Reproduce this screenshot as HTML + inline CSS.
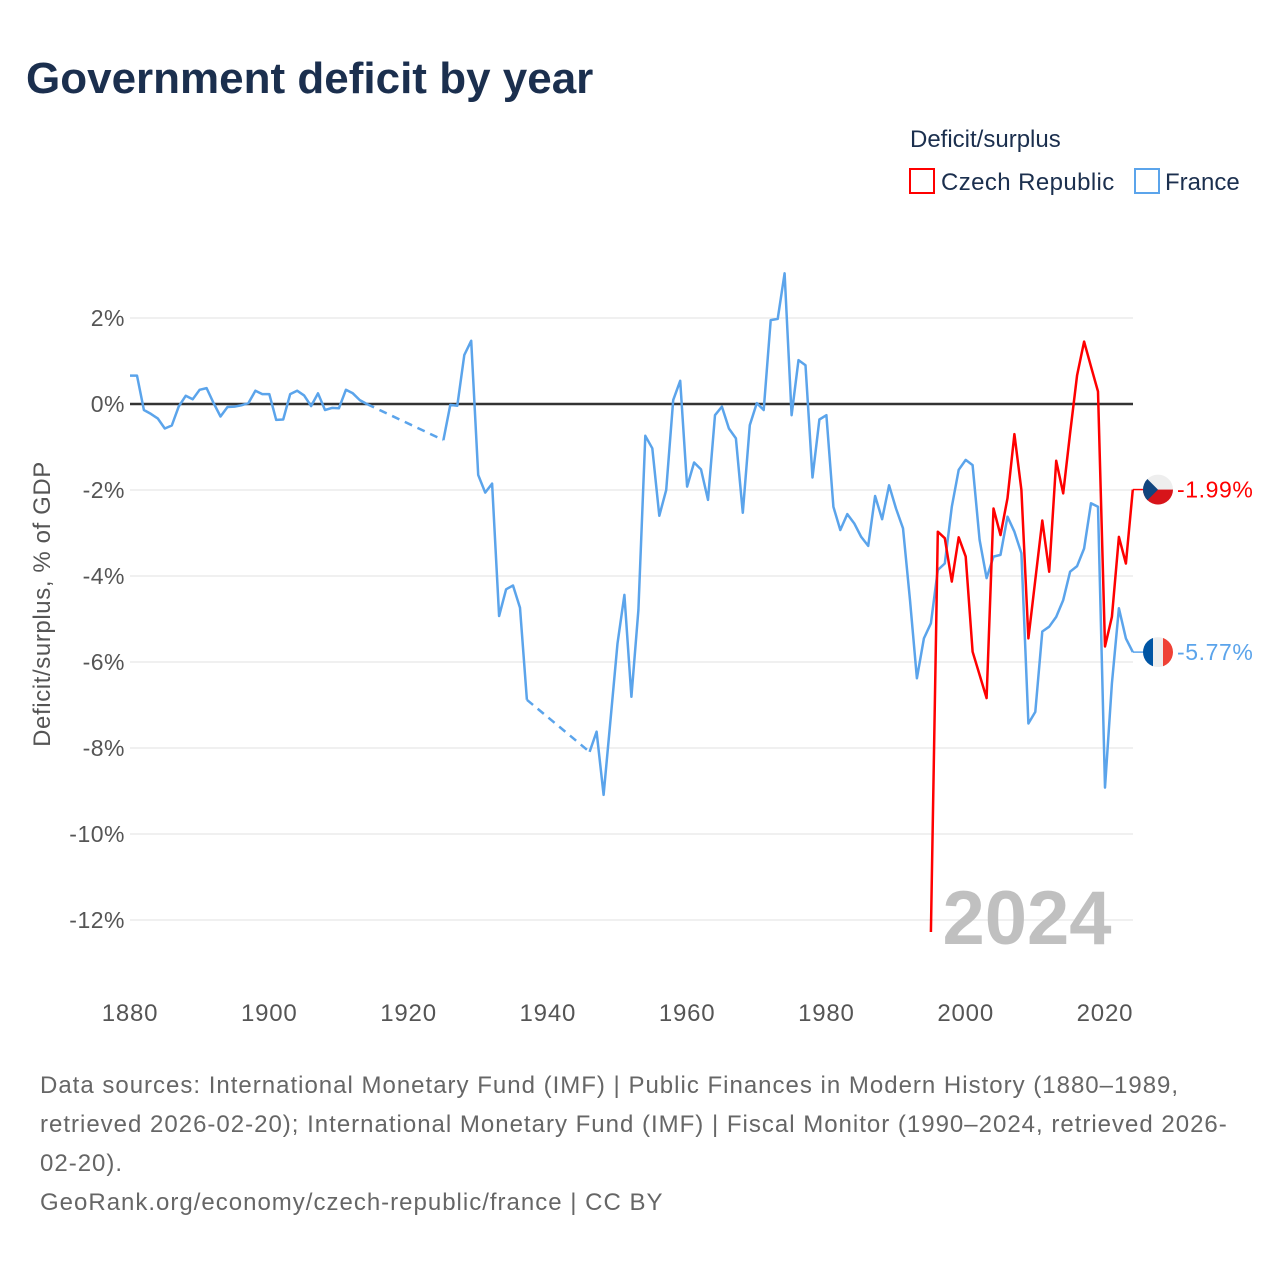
<!DOCTYPE html>
<html><head><meta charset="utf-8"><style>
body{margin:0;background:#fff;font-family:"Liberation Sans",sans-serif;}
svg text{font-family:"Liberation Sans",sans-serif;}
</style></head><body>
<svg id="chart" width="1280" height="1280" viewBox="0 0 1280 1280">
<text x="26" y="93" font-size="44" font-weight="bold" fill="#1b2f4e">Government deficit by year</text>
<text x="910" y="147" font-size="24" fill="#1b2f4e">Deficit/surplus</text>
<g><rect x="910" y="169" width="24" height="24" fill="none" stroke="#f00" stroke-width="2"/><text x="941" y="190" font-size="24" fill="#1b2f4e" letter-spacing="0.4">Czech Republic</text></g>
<g><rect x="1135" y="169" width="24" height="24" fill="none" stroke="#5ba4eb" stroke-width="2"/><text x="1165" y="190" font-size="24" fill="#1b2f4e">France</text></g>
<text transform="translate(50,604) rotate(-90)" text-anchor="middle" font-size="24" letter-spacing="0.6" fill="#555">Deficit/surplus, % of GDP</text>
<g id="grid"></g><g id="series"></g>
<text x="1027" y="944" text-anchor="middle" font-size="76" font-weight="bold" fill="#c0c0c0">2024</text>
<g id="endlabels"></g>
<text font-size="24" fill="#666" letter-spacing="1">
<tspan x="40" y="1093">Data sources: International Monetary Fund (IMF) | Public Finances in Modern History (1880–1989,</tspan>
<tspan x="40" y="1132">retrieved 2026-02-20); International Monetary Fund (IMF) | Fiscal Monitor (1990–2024, retrieved 2026-</tspan>
<tspan x="40" y="1171">02-20).</tspan>
<tspan x="40" y="1210">GeoRank.org/economy/czech-republic/france | CC BY</tspan>
</text>
</svg>
<script>
const yTicks=[2,0,-2,-4,-6,-8,-10,-12];
const xTicks=[1880,1900,1920,1940,1960,1980,2000,2020];
const franceYears=[1880,1881,1882,1883,1884,1885,1886,1887,1888,1889,1890,1891,1892,1893,1894,1895,1896,1897,1898,1899,1900,1901,1902,1903,1904,1905,1906,1907,1908,1909,1910,1911,1912,1913,1914,
1925,1926,1927,1928,1929,1930,1931,1932,1933,1934,1935,1936,1937,
1946,1947,1948,1949,1950,1951,1952,1953,1954,1955,1956,1957,1958,1959,1960,1961,1962,1963,1964,1965,1966,1967,1968,1969,1970,1971,1972,1973,1974,1975,1976,1977,1978,1979,1980,1981,1982,1983,1984,1985,1986,1987,1988,1989,1990,1991,1992,1993,1994,1995,1996,1997,1998,1999,2000,2001,2002,2003,2004,2005,2006,2007,2008,2009,2010,2011,2012,2013,2014,2015,2016,2017,2018,2019,2020,2021,2022,2023,2024];
const franceValues=[0.66,0.66,-0.14,-0.23,-0.34,-0.57,-0.5,-0.06,0.19,0.11,0.33,0.37,0.02,-0.29,-0.07,-0.06,-0.03,0.02,0.31,0.23,0.23,-0.37,-0.36,0.23,0.31,0.2,-0.05,0.25,-0.14,-0.09,-0.1,0.33,0.25,0.09,0,
-0.84,-0.02,-0.04,1.14,1.47,-1.65,-2.06,-1.85,-4.93,-4.31,-4.22,-4.74,-6.88,
-8.09,-7.62,-9.09,-7.35,-5.57,-4.44,-6.81,-4.79,-0.74,-1.03,-2.6,-2.0,0.09,0.54,-1.92,-1.36,-1.52,-2.23,-0.26,-0.06,-0.57,-0.8,-2.53,-0.49,0.02,-0.14,1.95,1.98,3.04,-0.26,1.02,0.9,-1.71,-0.36,-0.26,-2.39,-2.93,-2.56,-2.78,-3.09,-3.3,-2.14,-2.68,-1.89,-2.43,-2.89,-4.56,-6.38,-5.45,-5.1,-3.86,-3.71,-2.39,-1.53,-1.3,-1.42,-3.16,-4.05,-3.55,-3.51,-2.62,-2.97,-3.47,-7.43,-7.16,-5.29,-5.18,-4.95,-4.56,-3.9,-3.77,-3.36,-2.31,-2.39,-8.92,-6.5,-4.75,-5.45,-5.77];
const czechYears=[1995,1996,1997,1998,1999,2000,2001,2002,2003,2004,2005,2006,2007,2008,2009,2010,2011,2012,2013,2014,2015,2016,2017,2018,2019,2020,2021,2022,2023,2024];
const czechValues=[-12.28,-2.97,-3.12,-4.13,-3.1,-3.55,-5.76,-6.3,-6.84,-2.43,-3.05,-2.19,-0.7,-2.0,-5.45,-4.09,-2.71,-3.9,-1.32,-2.08,-0.68,0.67,1.45,0.87,0.29,-5.64,-4.95,-3.09,-3.71,-1.99];

const NS="http://www.w3.org/2000/svg";
const X0=130,X1=1133;
const xs=y=>130+(y-1880)*6.964;
const ys=v=>404-v*43;
function mk(tag,attrs,parent){const e=document.createElementNS(NS,tag);for(const k in attrs)e.setAttribute(k,attrs[k]);parent.appendChild(e);return e;}
const grid=document.getElementById('grid');
yTicks.forEach(t=>{
  const l=mk('line',{x1:X0,x2:X1,y1:ys(t),y2:ys(t),stroke:t===0?'#333':'#e6e6e6','stroke-width':t===0?2.5:1.2},grid);
  
  
  const tx=mk('text',{x:125,y:ys(t)+8,'text-anchor':'end','font-size':23,'letter-spacing':0.5,fill:'#555'},grid);
  tx.textContent=t+'%';
  
  
});
xTicks.forEach(t=>{
  const tx=mk('text',{x:xs(t),y:1021,'text-anchor':'middle','font-size':24,'letter-spacing':0.8,fill:'#555'},grid);
  tx.textContent=t;
  
  
});
const ser=document.getElementById('series');
function drawSeries(years,vals,color,name){
  let d='',dash='';
  for(let i=0;i<years.length;i++){
    const p=xs(years[i]).toFixed(1)+','+ys(vals[i]).toFixed(1);
    if(i===0||years[i]-years[i-1]>1){
      if(i>0)dash+='M'+xs(years[i-1]).toFixed(1)+','+ys(vals[i-1]).toFixed(1)+'L'+p;
      d+='M'+p;
    } else d+='L'+p;
  }
  const pl=mk('path',{d:d,fill:'none',stroke:color,'stroke-width':2.5,'stroke-linejoin':'round'},ser);
  
  
  if(dash){const dl=mk('path',{d:dash,fill:'none',stroke:color,'stroke-width':2.5,'stroke-dasharray':'8 6'},ser);
    
    }
}
drawSeries(franceYears,franceValues,'#5ba4eb','france');
drawSeries(czechYears,czechValues,'#f00','czech');
const el=document.getElementById('endlabels');
function endLabel(years,vals,color,name,flag){
  const v=vals[vals.length-1],y=ys(v),lx=xs(years[years.length-1]);
  const c=mk('line',{x1:lx,x2:1145,y1:y,y2:y,stroke:color,'stroke-width':1.5},el);
  
  
  const g=mk('g',{},el);
  
  
  const cx=1158,r=15;
  const cp=mk('clipPath',{id:'cp'+name},g);mk('circle',{cx:cx,cy:y,r:r},cp);
  const gg=mk('g',{'clip-path':'url(#cp'+name+')'},g);
  if(flag==='cz'){
    mk('rect',{x:cx-r,y:y-r,width:2*r,height:r,fill:'#eee'},gg);
    mk('rect',{x:cx-r,y:y,width:2*r,height:r,fill:'#d7141a'},gg);
    mk('polygon',{points:`${cx-r},${y-r} ${cx},${y} ${cx-r},${y+r}`,fill:'#11457e'},gg);
  } else {
    mk('rect',{x:cx-r,y:y-r,width:10,height:2*r,fill:'#0055a4'},gg);
    mk('rect',{x:cx-5,y:y-r,width:10,height:2*r,fill:'#eee'},gg);
    mk('rect',{x:cx+5,y:y-r,width:10,height:2*r,fill:'#ef4135'},gg);
  }
  const t=mk('text',{x:1177,y:y+8,'font-size':23,'letter-spacing':0.6,fill:color},el);
  t.textContent=v.toFixed(2)+'%';
  
  
}
endLabel(czechYears,czechValues,'#f00','czech','cz');
endLabel(franceYears,franceValues,'#5ba4eb','france','fr');
</script>
</body></html>
